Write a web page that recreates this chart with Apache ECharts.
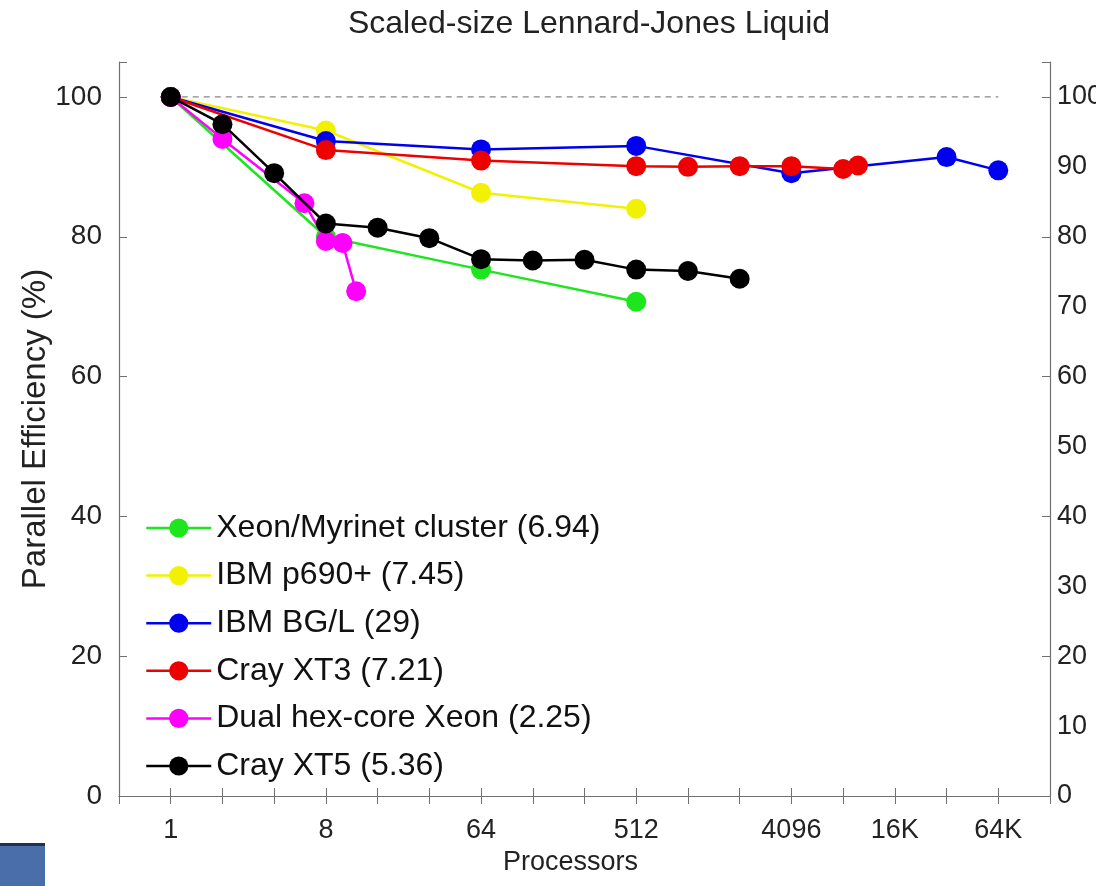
<!DOCTYPE html>
<html><head><meta charset="utf-8">
<script src="https://cdn.jsdelivr.net/npm/echarts@6/dist/echarts.min.js"></script>
<style>html,body{margin:0;padding:0;background:#fff}#c{width:1096px;height:886px}</style>
</head><body><div id="c"></div>
<script>
const chartTitle = 'Scaled-size Lennard-Jones Liquid';
const xAxisName = 'Processors';
const yAxisName = 'Parallel Efficiency (%)';
const xTickValues = [1, 8, 64, 512, 4096, 16384, 65536];
const xTickLabels = ['1', '8', '64', '512', '4096', '16K', '64K'];

const seriesNames = ['Xeon/Myrinet cluster (6.94)', 'IBM p690+ (7.45)', 'IBM BG/L (29)', 'Cray XT3 (7.21)', 'Dual hex-core Xeon (2.25)', 'Cray XT5 (5.36)'];
const seriesColors = ['#1ee61e', '#f2f200', '#0000f0', '#ee0000', '#ff00ff', '#000000'];

const xeonX = [1, 8, 64, 512];
const xeonY = [100, 80.0, 75.3, 70.7];
const p690X = [1, 8, 64, 512];
const p690Y = [100, 95.2, 86.3, 84.0];
const bglX = [1, 8, 64, 512, 4096, 32768, 65536];
const bglY = [100, 93.7, 92.5, 93.0, 89.1, 91.4, 89.5];
const xt3X = [1, 8, 64, 512, 1024, 2048, 4096, 8192, 10000];
const xt3Y = [100, 92.4, 90.9, 90.1, 90.0, 90.1, 90.1, 89.7, 90.2];
const hexX = [1, 2, 6, 8, 10, 12];
const hexY = [100, 94.0, 84.8, 79.4, 79.1, 72.2];
const xt5X = [1, 2, 4, 8, 16, 32, 64, 128, 256, 512, 1024, 2048];
const xt5Y = [100, 96.1, 89.1, 81.9, 81.3, 79.8, 76.8, 76.6, 76.7, 75.3, 75.1, 74.0];

const idealX = [1, 65536];
const idealY = [100, 100];

const seriesX = [xeonX, p690X, bglX, xt3X, hexX, xt5X];
const seriesY = [xeonY, p690Y, bglY, xt3Y, hexY, xt5Y];

const FONT = 'Liberation Sans';
const AX = '#707070';

function pairs(xs, ys) { return xs.map((x, i) => [x, ys[i]]); }
function xLabel(v) {
  for (let i = 0; i < xTickValues.length; i++) {
    if (Math.abs(v - xTickValues[i]) < 1e-6 * xTickValues[i]) return xTickLabels[i];
  }
  return '';
}

const series = [{
  type: 'line', name: 'ideal', data: pairs(idealX, idealY), symbol: 'none', silent: true,
  lineStyle: { color: '#888', width: 1.3, type: [6, 5] }, z: 1
}];
seriesNames.forEach((n, i) => {
  series.push({
    type: 'line', name: n, data: pairs(seriesX[i], seriesY[i]),
    symbol: 'circle', symbolSize: 20,
    lineStyle: { color: seriesColors[i], width: 2.5 },
    itemStyle: { color: seriesColors[i] },
    z: 2 + i
  });
});

const chart = echarts.init(document.getElementById('c'), null, { renderer: 'canvas' });
chart.setOption({
  animation: false,
  backgroundColor: '#fff',
  textStyle: { fontFamily: FONT },
  title: { text: chartTitle, left: 584, textAlign: 'center', top: 3, textStyle: { fontFamily: FONT, fontSize: 32, fontWeight: 'normal', color: '#222' } },
  grid: { left: 119, right: 46, top: 62, bottom: 90, containLabel: false, outerBoundsMode: 'none' },
  legend: {
    data: seriesNames, orient: 'vertical', left: 140, top: 507,
    itemWidth: 65, itemHeight: 24, itemGap: 15.6,
    lineStyle: { width: 2.5 },
    textStyle: { fontFamily: FONT, fontSize: 32, color: '#111', lineHeight: 32 }
  },
  xAxis: [{
    type: 'log', logBase: 2, min: 0.5, max: 131072, interval: 1, position: 'bottom',
    name: xAxisName, nameLocation: 'middle', nameGap: 52,
    nameTextStyle: { fontFamily: FONT, fontSize: 27, color: '#222', padding: [0, 28, 0, 0] },
    axisLine: { lineStyle: { color: AX, width: 1.2 } },
    axisTick: { inside: true, length: 8, interval: 0, lineStyle: { color: AX } },
    axisLabel: { interval: 0, margin: 21, fontFamily: FONT, fontSize: 27, color: '#222', formatter: xLabel },
    splitLine: { show: false }, minorTick: { show: false }
  }, {
    type: 'log', logBase: 2, min: 0.5, max: 131072, interval: 1, position: 'top',
    axisLine: { lineStyle: { color: AX, width: 1.2 } },
    axisTick: { inside: true, length: 8, interval: 0, lineStyle: { color: AX } },
    axisLabel: { show: false }, splitLine: { show: false }
  }],
  yAxis: [{
    type: 'value', min: 0, max: 105, interval: 20, position: 'left',
    name: yAxisName, nameLocation: 'middle', nameGap: 67, nameRotate: 90, nameMoveOverlap: false,
    nameTextStyle: { fontFamily: FONT, fontSize: 33, color: '#222' },
    axisLine: { show: true, lineStyle: { color: AX, width: 1.2 } },
    axisTick: { show: true, inside: true, length: 8, lineStyle: { color: AX } },
    axisLabel: { margin: 17, fontFamily: FONT, fontSize: 28, color: '#222', formatter: v => v > 100 ? '' : String(v) },
    splitLine: { show: false }
  }, {
    type: 'value', min: 0, max: 105, interval: 20, position: 'right',
    axisLine: { show: true, lineStyle: { color: AX, width: 1.2 } },
    axisTick: { show: true, inside: true, length: 8, lineStyle: { color: AX } },
    axisLabel: { show: false }, splitLine: { show: false }
  }, {
    type: 'value', min: 0, max: 105, interval: 10, position: 'right',
    axisLine: { show: false }, axisTick: { show: false },
    axisLabel: { margin: 7, fontFamily: FONT, fontSize: 27, color: '#222', formatter: v => v > 100 ? '' : String(v) },
    splitLine: { show: false }
  }],
  series: series,
  graphic: [
    { type: 'rect', shape: { x: 0, y: 843, width: 45, height: 43 }, style: { fill: '#4a6ea9' }, silent: true },
    { type: 'rect', shape: { x: 0, y: 843, width: 45, height: 3 }, style: { fill: '#1f3050' }, silent: true }
  ]
});
</script></body></html>
